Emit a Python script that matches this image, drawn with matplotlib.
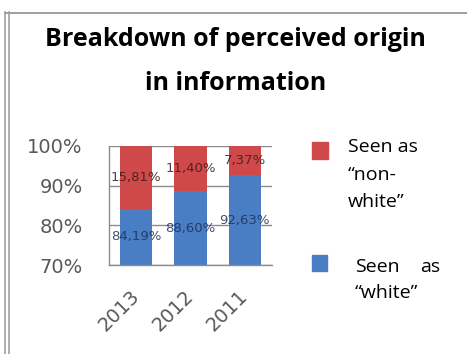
import matplotlib
matplotlib.use("Agg")
import matplotlib.pyplot as plt
from matplotlib.patches import Rectangle
from matplotlib.lines import Line2D

plt.rcParams['font.family'] = ['Open Sans', 'DejaVu Sans']

years      = ['2013', '2012', '2011']
white_pct  = [84.19, 88.60, 92.63]
other_pct  = [15.81, 11.40, 7.37]
yticks     = [70, 80, 90, 100]

red   = '#D0494A'
blue  = '#4A7EC4'
gray  = '#595959'

fig = plt.figure(figsize=(4.67, 3.54), dpi=100)
ax = fig.add_axes([0.2334, 0.2514, 0.3490, 0.3362])

x = range(len(years))
w = 0.59
ax.bar(x, white_pct, width=w, color=blue, zorder=2)
ax.bar(x, other_pct, width=w, bottom=white_pct, color=red, zorder=2)

ymin, ymax = 70, 100
ax.set_ylim(ymin, ymax)
ax.set_xlim(-0.5, 2.5)

# data labels sit at the middle of the visible part of each segment
for i in x:
    yb = (ymin + white_pct[i]) / 2
    yr = white_pct[i] + other_pct[i] / 2
    ax.text(i, yb, f"{white_pct[i]:.2f}%".replace('.', ','), ha='center', va='center',
            fontsize=9.5, color='#1e3158', family='DejaVu Sans', alpha=0.85, zorder=3)
    ax.text(i, yr, f"{other_pct[i]:.2f}%".replace('.', ','), ha='center', va='center',
            fontsize=9.5, color='#3a1c1c', family='DejaVu Sans', alpha=0.85, zorder=3)

ax.set_yticks(yticks)
ax.set_yticklabels([f"{t}%" for t in yticks], family='DejaVu Sans')
ax.yaxis.grid(True, color='#8c8c8c', linewidth=1.0, zorder=0)
ax.tick_params(axis='y', length=0, pad=19, labelsize=14, labelcolor=gray)
ax.set_xticks(list(x))
ax.set_xticklabels(years, rotation=45, ha='right', va='center', rotation_mode='anchor',
                   family='DejaVu Sans')
ax.tick_params(axis='x', length=0, pad=20, labelsize=14, labelcolor=gray)

for s in ['top', 'right']:
    ax.spines[s].set_visible(False)
for s in ['left', 'bottom']:
    ax.spines[s].set_color('#8c8c8c')
    ax.spines[s].set_linewidth(1.0)

# title
fig.text(0.505, 1 - 39 / 354, 'Breakdown of perceived origin', ha='center', va='center',
         fontsize=18, fontweight='bold', color='black')
fig.text(0.505, 1 - 83 / 354, 'in information', ha='center', va='center',
         fontsize=18, fontweight='bold', color='black')

# legend
W, H = 467, 354
fig.patches.append(Rectangle((312 / W, 1 - 159 / H), 16 / W, 17 / H,
                             transform=fig.transFigure, color=red))
fig.patches.append(Rectangle((312 / W, 1 - 271 / H), 15 / W, 16 / H,
                             transform=fig.transFigure, color=blue))
for txt, yy in [('Seen as', 147), ('\u201cnon-', 175), ('white\u201d', 202)]:
    fig.text(348 / W, 1 - yy / H, txt, ha='left', va='center', fontsize=14, color='black')
fig.text(355 / W, 1 - 267 / H, 'Seen', ha='left', va='center', fontsize=14, color='black')
fig.text(440 / W, 1 - 267 / H, 'as', ha='right', va='center', fontsize=14, color='black')
fig.text(355 / W, 1 - 293 / H, '\u201cwhite\u201d', ha='left', va='center', fontsize=14, color='black')

# frame lines
fig.add_artist(Line2D([4.5 / W, 1], [1 - 13 / H] * 2, transform=fig.transFigure,
                      color='#8f8f8f', linewidth=1.2))
for xx in (5 / W, 9 / W):
    fig.add_artist(Line2D([xx, xx], [0, 1 - 12 / H], transform=fig.transFigure,
                          color='#9a9a9a', linewidth=1.1))

fig.savefig('out.png', dpi=100)
